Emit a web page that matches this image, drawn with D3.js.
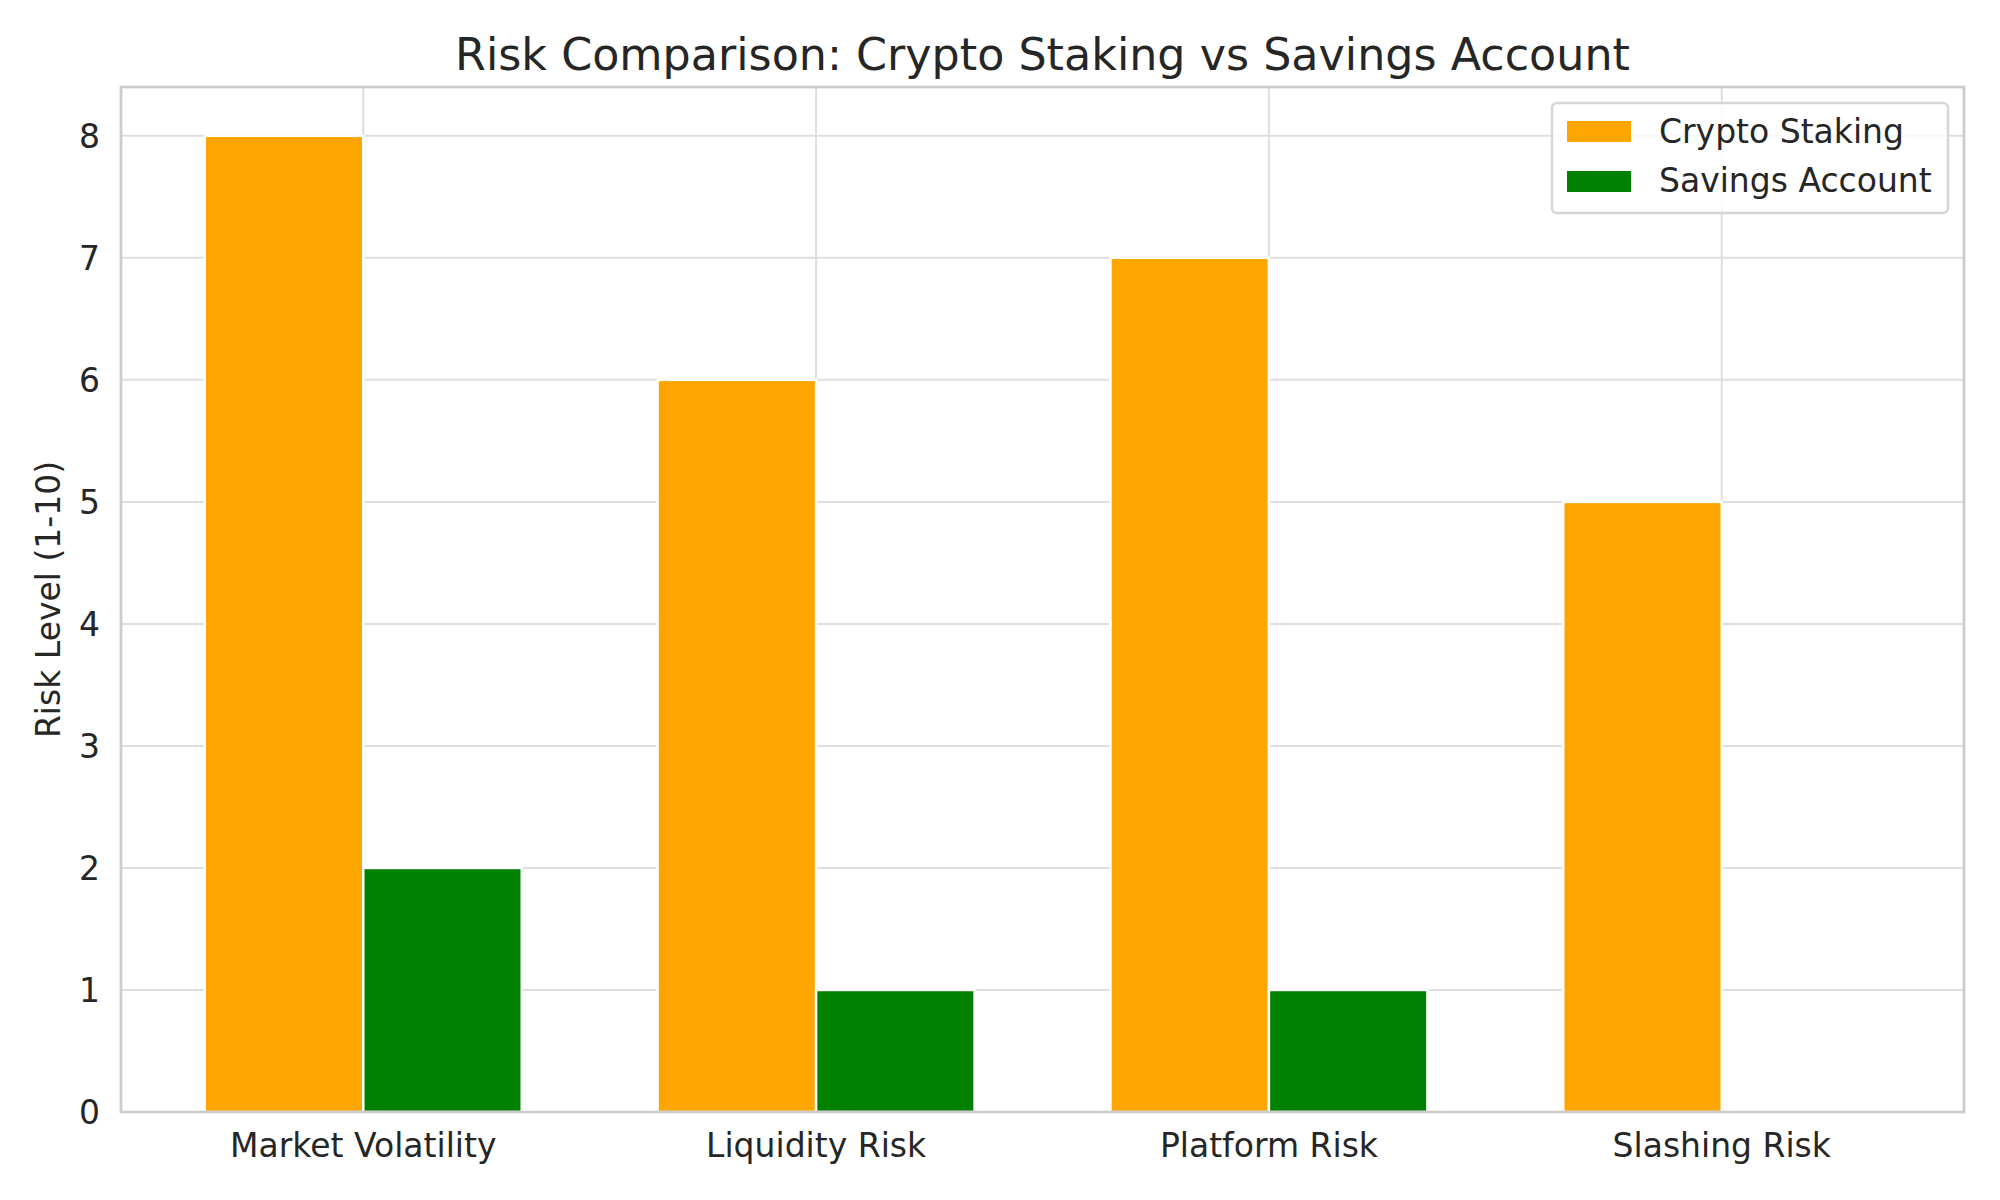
<!DOCTYPE html>
<html><head><meta charset="utf-8">
<script src="https://cdn.jsdelivr.net/npm/d3@7"></script>
<style>body{margin:0;background:#fff}svg{display:block}text{font-family:"DejaVu Sans",sans-serif;fill:#262626}</style>
</head><body>
<svg id="c" width="2000" height="1200"></svg>
<script>
const categories = ["Market Volatility", "Liquidity Risk", "Platform Risk", "Slashing Risk"];
const cryptoStaking = [8, 6, 7, 5];
const savingsAccount = [2, 1, 1, 0];
const seriesNames = ["Crypto Staking", "Savings Account"];
const seriesColors = ["#FFA500", "#008000"];
const yTicks = [0, 1, 2, 3, 4, 5, 6, 7, 8];

const svg = d3.select("#c");
const L = 121, R = 1964, T = 87, B = 1112;
const barW = 0.35;
const x = d3.scaleLinear().domain([-0.535, 3.535]).range([L, R]);
const y = d3.scaleLinear().domain([0, 8.4]).range([B, T]);

// grid
const g = svg.append("g");
g.selectAll("line.hy").data(yTicks).join("line")
  .attr("x1", L).attr("x2", R).attr("y1", d => y(d)).attr("y2", d => y(d))
  .attr("stroke", "#dedede").attr("stroke-width", 2);
g.selectAll("line.vx").data(categories).join("line")
  .attr("x1", (d, i) => x(i)).attr("x2", (d, i) => x(i)).attr("y1", T).attr("y2", B)
  .attr("stroke", "#dedede").attr("stroke-width", 2);

// bars
const series = [cryptoStaking, savingsAccount];
series.forEach((vals, s) => {
  svg.append("g").selectAll("rect").data(vals).join("rect")
    .attr("x", (d, i) => x(i + (s === 0 ? -barW : 0)))
    .attr("width", x(barW) - x(0))
    .attr("y", d => y(d))
    .attr("height", d => y(0) - y(d))
    .attr("fill", seriesColors[s])
    .attr("stroke", "#ffffff").attr("stroke-width", d => d > 0 ? 2.5 : 0);
});

// spines
svg.append("rect").attr("x", L).attr("y", T).attr("width", R - L).attr("height", B - T)
  .attr("fill", "none").attr("stroke", "#cccccc").attr("stroke-width", 2.7);

// y tick labels
svg.append("g").selectAll("text").data(yTicks).join("text")
  .attr("x", 100).attr("y", d => y(d)).attr("dy", "0.36em")
  .attr("text-anchor", "end").attr("font-size", 33).text(d => d);

// x tick labels
svg.append("g").selectAll("text").data(categories).join("text")
  .attr("x", (d, i) => x(i)).attr("y", 1157)
  .attr("text-anchor", "middle").attr("font-size", 33).text(d => d);

// y label
svg.append("text").attr("transform", `translate(60,${(T + B) / 2}) rotate(-90)`)
  .attr("text-anchor", "middle").attr("font-size", 33).text("Risk Level (1-10)");

// title
svg.append("text").attr("x", (L + R) / 2).attr("y", 70)
  .attr("text-anchor", "middle").attr("font-size", 44.4)
  .text("Risk Comparison: Crypto Staking vs Savings Account");

// legend
const lg = svg.append("g");
lg.append("rect").attr("x", 1552).attr("y", 103).attr("width", 396).attr("height", 110)
  .attr("rx", 5).attr("fill", "rgba(255,255,255,0.8)").attr("stroke", "#d6d6d6").attr("stroke-width", 2.5);
seriesNames.forEach((n, i) => {
  lg.append("rect").attr("x", 1567).attr("y", 121 + i * 50).attr("width", 64).attr("height", 21)
    .attr("fill", seriesColors[i]);
  lg.append("text").attr("x", 1659).attr("y", 143 + i * 49).attr("font-size", 33).text(n);
});
</script>
</body></html>
